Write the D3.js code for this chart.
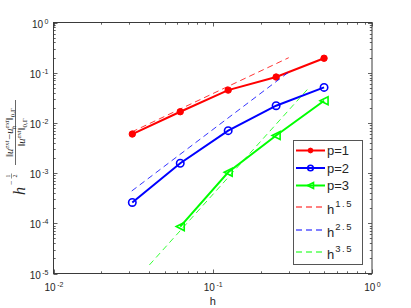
<!DOCTYPE html>
<html>
<head>
<meta charset="utf-8">
<script src="https://cdn.jsdelivr.net/npm/d3@7/dist/d3.min.js"></script>
<style>
  body { margin: 0; background: #fff; }
  svg { display: block; }
</style>
</head>
<body>
<div id="chart"></div>
<script>
// mesh sizes and errors
var hVals = [1/32, 1/16, 1/8, 1/4, 1/2];
var errP1 = [6.0e-3, 1.67e-2, 4.5e-2, 8.2e-2, 1.94e-1];
var errP2 = [2.6e-4, 1.57e-3, 7.0e-3, 2.2e-2, 5.1e-2];
var hP3 = [1/16, 1/8, 1/4, 1/2];
var errP3 = [8.6e-5, 1.04e-3, 5.6e-3, 2.77e-2];

// reference slope lines (end points)
var refH15 = [0.031, 0.30];
var refV15 = [6.6e-3, 0.199];
var refH25 = [0.031, 0.30];
var refV25 = [4.4e-4, 0.103];
var refH35 = [0.040, 0.40];
var refV35 = [1.48e-5, 0.0494];

var xTickLabels = ["-2", "-1", "0"];
var yTickLabels = ["-5", "-4", "-3", "-2", "-1", "0"];
var legendNames = ["p=1", "p=2", "p=3", "1.5", "2.5", "3.5"];

(function() {
var w = 411, h = 308;
var pLeft = 53.5, pRight = 372, pTop = 22.5, pBottom = 273.5;
var axisCol = "#3a3a3a";
var sansFont = "'Liberation Sans', Arial, sans-serif";
var serifFont = "'Liberation Serif', 'DejaVu Serif', serif";

var xScale = d3.scaleLog().domain([0.01, 1]).range([pLeft, pRight]);
var yScale = d3.scaleLog().domain([1e-5, 1]).range([pBottom, pTop]);

var svg = d3.select("#chart").append("svg")
    .attr("width", w)
    .attr("height", h);

// white plot area
svg.append("rect")
    .attr("x", pLeft).attr("y", pTop)
    .attr("width", pRight - pLeft).attr("height", pBottom - pTop)
    .attr("fill", "white");

// ticks on all four sides, pointing inwards
function isMajor(v) { return Math.abs(Math.log10(v) - Math.round(Math.log10(v))) < 1e-9; }

var ticks = svg.append("g").attr("stroke", axisCol).attr("stroke-width", 0.8);
xScale.ticks().forEach(function(v) {
    var len = isMajor(v) ? 4 : 2.2;
    var x = Math.round(xScale(v)) + 0.5;
    ticks.append("line").attr("x1", x).attr("x2", x).attr("y1", pBottom).attr("y2", pBottom - len);
    ticks.append("line").attr("x1", x).attr("x2", x).attr("y1", pTop).attr("y2", pTop + len);
});
yScale.ticks().forEach(function(v) {
    var len = isMajor(v) ? 4 : 2.2;
    var y = Math.round(yScale(v)) + 0.5;
    ticks.append("line").attr("x1", pLeft).attr("x2", pLeft + len).attr("y1", y).attr("y2", y);
    ticks.append("line").attr("x1", pRight).attr("x2", pRight - len).attr("y1", y).attr("y2", y);
});

// data lines
var line = d3.line()
    .x(function(d) { return xScale(d[0]); })
    .y(function(d) { return yScale(d[1]); });

var series = [
    { h: hVals, e: errP1, color: "#ff0000", marker: "dot" },
    { h: hVals, e: errP2, color: "#0000ff", marker: "circle" },
    { h: hP3, e: errP3, color: "#00ff00", marker: "tri" }
];

function drawMarker(g, kind, color, x, y, s) {
    if (kind === "dot") {
        g.append("circle").attr("cx", x).attr("cy", y).attr("r", 3.2 * s)
            .attr("fill", color).attr("stroke", color).attr("stroke-width", 1);
    } else if (kind === "circle") {
        g.append("circle").attr("cx", x).attr("cy", y).attr("r", 3.7 * s)
            .attr("fill", "none").attr("stroke", color).attr("stroke-width", 1.6);
    } else {
        var r = 4 * s;
        g.append("path")
            .attr("d", "M" + (x - r) + "," + y + "L" + (x + r) + "," + (y - r) + "L" + (x + r) + "," + (y + r) + "Z")
            .attr("fill", "none").attr("stroke", color).attr("stroke-width", 1.6);
    }
}

series.forEach(function(s) {
    var pts = s.h.map(function(v, i) { return [v, s.e[i]]; });
    svg.append("path")
        .attr("d", line(pts))
        .attr("fill", "none")
        .attr("stroke", s.color)
        .attr("stroke-width", 2);
    var g = svg.append("g");
    pts.forEach(function(p) { drawMarker(g, s.marker, s.color, xScale(p[0]), yScale(p[1]), 1); });
});

// reference slopes
var refs = [
    { h: refH15, v: refV15, color: "#ff0000" },
    { h: refH25, v: refV25, color: "#0000ff" },
    { h: refH35, v: refV35, color: "#00ff00" }
];
refs.forEach(function(r) {
    var pts = r.h.map(function(v, i) { return [v, r.v[i]]; });
    svg.append("path")
        .attr("d", line(pts))
        .attr("fill", "none")
        .attr("stroke", r.color)
        .attr("stroke-width", 0.8)
        .attr("stroke-dasharray", "6,4");
});

// frame
svg.append("rect")
    .attr("x", pLeft).attr("y", pTop)
    .attr("width", pRight - pLeft).attr("height", pBottom - pTop)
    .attr("fill", "none")
    .attr("stroke", axisCol)
    .attr("stroke-width", 1);

// tick labels: 10 with a superscript exponent
xScale.ticks().filter(isMajor).forEach(function(v, i) {
    var t = svg.append("text")
        .attr("x", xScale(v) + 0.5)
        .attr("y", 291)
        .attr("text-anchor", "middle")
        .style("font-family", sansFont)
        .style("font-size", "10px")
        .attr("fill", "#262626");
    t.append("tspan").text("10");
    t.append("tspan").attr("dx", 1.5).attr("dy", -4.5).style("font-size", "7px").text(xTickLabels[i]);
});

yScale.ticks().filter(isMajor).forEach(function(v, i) {
    var t = svg.append("text")
        .attr("x", 48.5)
        .attr("y", yScale(v) + 5)
        .attr("text-anchor", "end")
        .style("font-family", sansFont)
        .style("font-size", "10px")
        .attr("fill", "#262626");
    t.append("tspan").text("10");
    t.append("tspan").attr("dx", 1.5).attr("dy", -4).style("font-size", "7px").text(yTickLabels[i]);
});

// x label
svg.append("text")
    .attr("x", (pLeft + pRight) / 2)
    .attr("y", 305)
    .attr("text-anchor", "middle")
    .style("font-family", sansFont)
    .style("font-size", "11px")
    .attr("fill", "#262626")
    .text("h");

// y label (rotated math)
var yl = svg.append("g")
    .attr("transform", "translate(21,148) rotate(-90)")
    .style("font-family", serifFont)
    .attr("fill", "#262626");

yl.append("text").attr("x", -47).attr("y", 4)
    .style("font-size", "16px").style("font-style", "italic").text("h");
yl.append("text").attr("x", -37).attr("y", -7)
    .style("font-size", "8px").text("\u2212");
yl.append("text").attr("x", -28).attr("y", -11).attr("text-anchor", "middle")
    .style("font-size", "6px").text("1");
yl.append("line").attr("x1", -30.5).attr("x2", -25.5).attr("y1", -9.5).attr("y2", -9.5)
    .attr("stroke", "#262626").attr("stroke-width", 0.5);
yl.append("text").attr("x", -28).attr("y", -4).attr("text-anchor", "middle")
    .style("font-size", "6px").text("2");

// parts: [text, dy, font size, italic, dx]
function mathText(g, x, y, parts) {
    var t = g.append("text").attr("x", x).attr("y", y)
        .attr("text-anchor", "middle").style("font-size", "10.5px");
    parts.forEach(function(p) {
        var s = t.append("tspan").text(p[0]);
        if (p[1]) s.attr("dy", p[1]);
        if (p[2]) s.style("font-size", p[2]);
        if (p[3]) s.style("font-style", "italic");
        if (p[4]) s.attr("dx", p[4]);
    });
}
mathText(yl, 15.5, -8.5, [
    ["\u2016", 0, 0, 0], ["u", 0, 0, 1], ["ext", -4, "7px", 1], ["\u2212", 4, 0, 0, 1],
    ["u", 0, 0, 1], ["ext", -4, "7px", 1], ["h", 7, "7px", 1, -9], ["\u2016", -3, 0, 0, 5.5],
    ["0,\u0393", 2, "7px", 0]
]);
yl.append("line").attr("x1", -17).attr("x2", 48).attr("y1", -5.5).attr("y2", -5.5)
    .attr("stroke", "#262626").attr("stroke-width", 0.7);
mathText(yl, 15.5, 4, [
    ["\u2016", 0, 0, 0], ["u", 0, 0, 1], ["ext", -4, "7px", 1], ["\u2016", 4, 0, 0],
    ["0,\u0393", 2, "7px", 0]
]);

// legend
var lg = svg.append("g");
lg.append("rect")
    .attr("x", 293.5).attr("y", 140.5)
    .attr("width", 69).attr("height", 124)
    .attr("fill", "white")
    .attr("stroke", "#555")
    .attr("stroke-width", 1);

var legendY = [150.5, 168, 185.5, 207, 230, 252];
var legendCol = ["#ff0000", "#0000ff", "#00ff00", "#ff0000", "#0000ff", "#00ff00"];
var legendMk = ["dot", "circle", "tri"];
legendNames.forEach(function(name, i) {
    var y = legendY[i];
    var ln = lg.append("line")
        .attr("x1", 296).attr("x2", 325)
        .attr("y1", y).attr("y2", y)
        .style("stroke", legendCol[i]);
    var t = lg.append("text")
        .attr("x", 327)
        .style("font-family", sansFont)
        .style("font-size", "13px")
        .attr("fill", "#262626");
    if (i < 3) {
        ln.style("stroke-width", 2);
        drawMarker(lg, legendMk[i], legendCol[i], 310.5, y, 0.75);
        t.attr("y", y + 4.5).text(name);
    } else {
        ln.style("stroke-width", 1).style("stroke-dasharray", "6,4");
        t.attr("y", y + 7);
        t.append("tspan").text("h");
        t.append("tspan").attr("dx", 1).attr("dy", -7).style("font-size", "9.5px")
            .style("letter-spacing", "1.5px").text(name);
    }
});
})();
</script>
</body>
</html>
